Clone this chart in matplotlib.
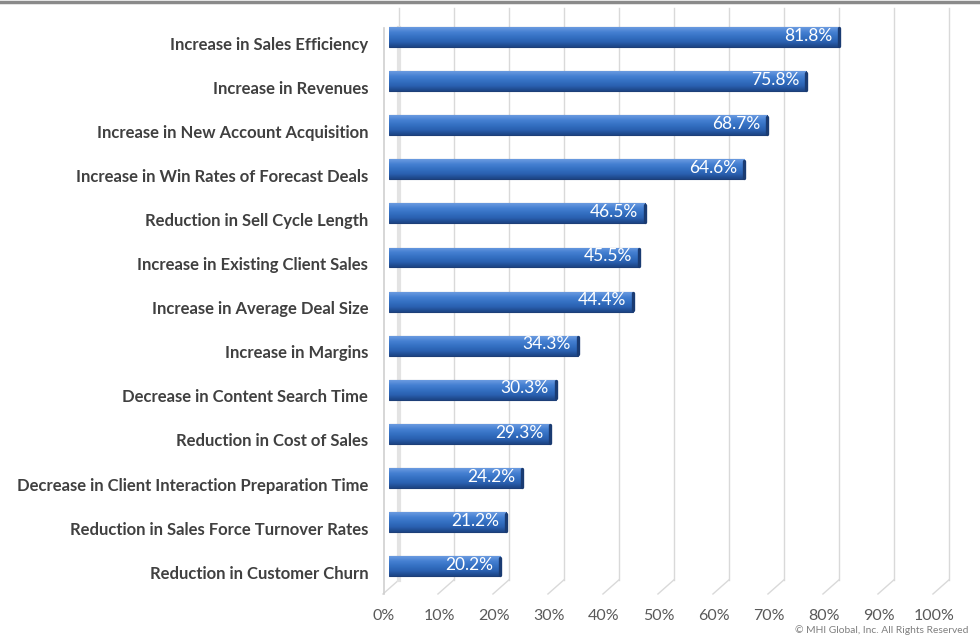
import numpy as np
import matplotlib
matplotlib.use("Agg")
import matplotlib.pyplot as plt
import matplotlib.transforms as mtransforms
from matplotlib.colors import LinearSegmentedColormap

categories = [
    "Increase in Sales Efficiency",
    "Increase in Revenues",
    "Increase in New Account Acquisition",
    "Increase in Win Rates of Forecast Deals",
    "Reduction in Sell Cycle Length",
    "Increase in Existing Client Sales",
    "Increase in Average Deal Size",
    "Increase in Margins",
    "Decrease in Content Search Time",
    "Reduction in Cost of Sales",
    "Decrease in Client Interaction Preparation Time",
    "Reduction in Sales Force Turnover Rates",
    "Reduction in Customer Churn",
]
values = [81.8, 75.8, 68.7, 64.6, 46.5, 45.5, 44.4, 34.3, 30.3, 29.3, 24.2, 21.2, 20.2]
ticks = [0, 10, 20, 30, 40, 50, 60, 70, 80, 90, 100]
tick_labels = [f"{t}%" for t in ticks]

plt.rcParams['font.family'] = ['Lato', 'DejaVu Sans']

fig = plt.figure(figsize=(9.8, 6.35), dpi=100)
ax = fig.add_axes([389 / 980, 1 - 594 / 635, 550 / 980, 586 / 635])

n = len(categories)
ypos = np.arange(n)
ax.set_xlim(0, 100)
ax.set_ylim(12.63, -0.658)

# 3d-ish depth offsets (back wall / front floor) in data units
back = 1.8
front = -1.1
y_back_floor = 12.31
y_front_floor = 12.63

# back gridlines + floor diagonals
for t in ticks:
    ax.plot([t + back, t + back], [-0.658, y_back_floor], color="#d9d9d9", lw=1.0,
            zorder=0, clip_on=False)
    ax.plot([t + back, t + front], [y_back_floor, y_front_floor], color="#d9d9d9",
            lw=1.0, zorder=0, clip_on=False)

# side wall
ax.plot([front + 0.2, front + 0.2], [-0.2, y_front_floor], color="#cfcfcf", lw=1.2,
        zorder=1, clip_on=False)
ax.plot([back, back], [-0.2, y_back_floor], color="#e3e3e3", lw=3, zorder=1,
        clip_on=False)

# bars with a vertical blue gradient
cmap = LinearSegmentedColormap.from_list(
    "barblue", ["#6b9be0", "#4580d2", "#3470c2", "#2a60b0", "#1c4484"])
grad = np.linspace(0, 1, 64).reshape(-1, 1)
bh = 0.45
bars = ax.barh(ypos, values, height=bh, color="#2f69bd", edgecolor="#1d3f78",
               linewidth=0.8, zorder=3)
for bar, v in zip(bars, values):
    x0, y0 = bar.get_x(), bar.get_y()
    w, h = bar.get_width(), bar.get_height()
    im = ax.imshow(grad, cmap=cmap, aspect="auto", interpolation="bicubic",
                   extent=(x0, x0 + w, y0 + h, y0), zorder=3.5)
    im.set_clip_path(bar)
    # rounded end cap
    ax.plot([x0 + w, x0 + w], [y0 + 0.03, y0 + h - 0.03], color="#1a3b72",
            lw=2.4, solid_capstyle="round", zorder=4)
    ax.text(x0 + w - 1.2, y0 + h / 2 - 0.03, f"{v:.1f}%", ha="right", va="center",
            color="white", fontsize=12.5, zorder=5)

ax.set_xlim(0, 100)
ax.set_ylim(12.63, -0.658)

ax.set_yticks(ypos)
ax.set_yticklabels(categories, fontsize=12, fontweight="bold", color="#404040")
ax.set_xticks(ticks)
ax.set_xticklabels(tick_labels, fontsize=11.5, color="#595959")
ax.tick_params(axis="y", length=0, pad=15)
ax.tick_params(axis="x", length=0, pad=11)
shift_y = mtransforms.ScaledTranslation(0, -6 / 100, fig.dpi_scale_trans)
for lbl in ax.get_yticklabels():
    lbl.set_transform(lbl.get_transform() + shift_y)
shift_x = mtransforms.ScaledTranslation(-5 / 100, 0, fig.dpi_scale_trans)
for lbl in ax.get_xticklabels():
    lbl.set_transform(lbl.get_transform() + shift_x)

for s in ax.spines.values():
    s.set_visible(False)

# top rule
fig.add_artist(plt.Line2D([0, 1], [1 - 1.5 / 635, 1 - 1.5 / 635], color="#8a8a8a",
                          lw=2.5, transform=fig.transFigure))

fig.text(968 / 980, 1 - 630.5 / 635, "\u00a9 MHI Global, Inc. All Rights Reserved",
         ha="right", va="center", fontsize=7.4, color="#7f7f7f")

fig.savefig("out.png", dpi=100)
